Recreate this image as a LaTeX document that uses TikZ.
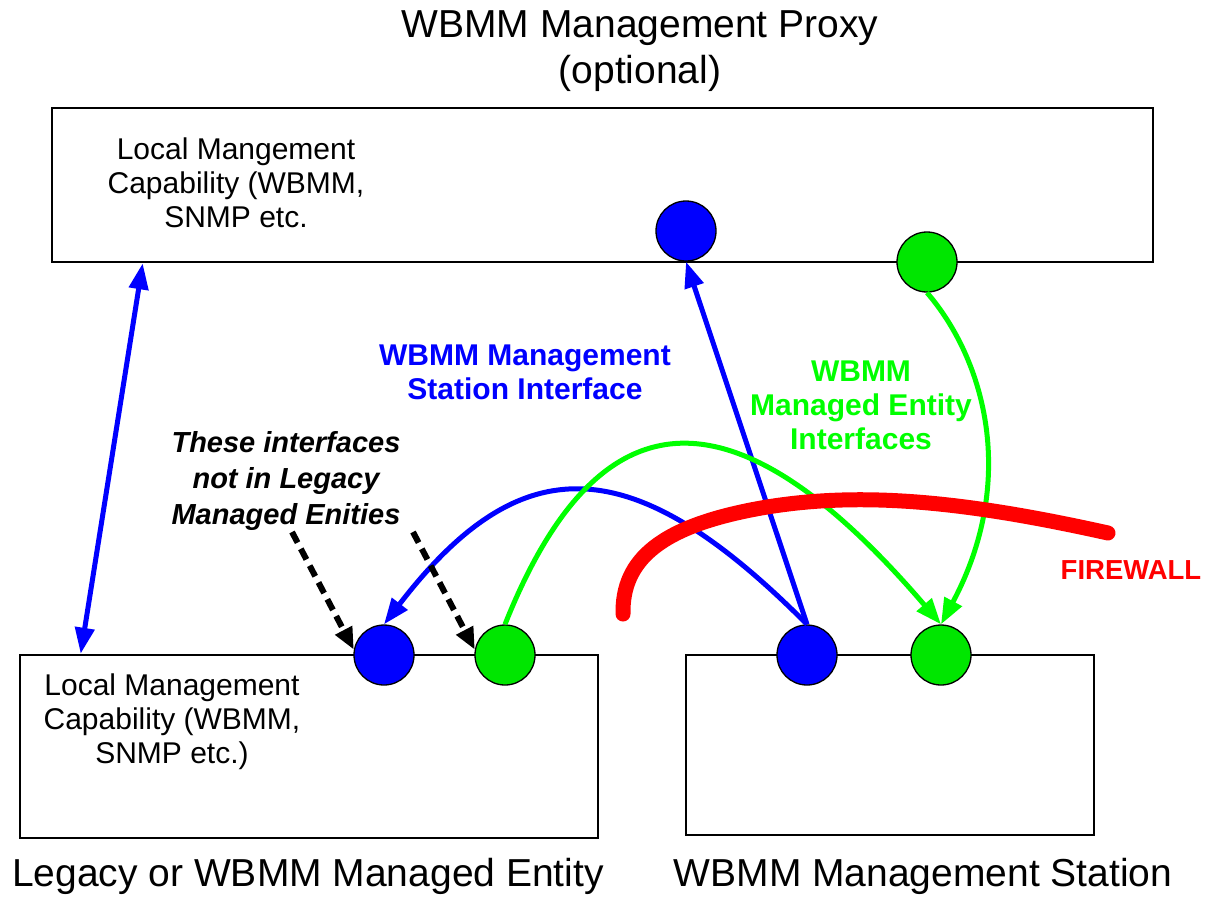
\documentclass[tikz,border=0pt]{standalone}
\usepackage{fontspec}
\setmainfont{Liberation Sans}
\usetikzlibrary{arrows.meta,calc}
\definecolor{bl}{RGB}{0,0,255}
\definecolor{gr}{RGB}{0,255,0}
\definecolor{grfill}{RGB}{0,230,0}
\definecolor{rd}{RGB}{255,0,0}
\begin{document}
\begin{tikzpicture}[x=1pt,y=-1pt,
  box/.style={draw=black,line width=2.6pt,rectangle,inner sep=0pt},
  bigtxt/.style={align=center,inner sep=0pt,font=\fontsize{39}{46}\selectfont},
  boxtxt/.style={align=center,inner sep=0pt,font=\fontsize{30}{34}\selectfont},
  lbl/.style={align=center,inner sep=0pt,font=\fontsize{30}{34}\selectfont\bfseries},
  port/.style={circle,draw=black,line width=1.3pt,minimum size=60pt,inner sep=0pt},
  bport/.style={port,fill=bl},
  gport/.style={port,fill=grfill},
  bline/.style={draw=bl,line width=5pt},
  gline/.style={draw=gr,line width=5pt},
  btip/.style={-{Triangle[length=26pt,width=19pt]}},
  dashline/.style={draw=black,line width=6pt,dash pattern=on 12pt off 7pt,-{Triangle[length=22pt,width=18pt]}},
  fw/.style={draw=rd,line width=15pt,line cap=round}
]
\useasboundingbox (0,0) rectangle (1215,898);

% boxes
\node[box,minimum width=1101pt,minimum height=154pt] (proxy) at (602.5,185) {};
\node[box,minimum width=578pt,minimum height=183pt] (entity) at (309,746.5) {};
\node[box,minimum width=408pt,minimum height=180pt] (station) at (890,745) {};

% texts
\node[bigtxt] (title) at (640,51) {WBMM Management Proxy\\(optional)};
\node[boxtxt] (ptxt) at (236,183) {Local Mangement\\Capability (WBMM,\\SNMP etc.};
\node[boxtxt] (etxt) at (172,722) {Local Management\\Capability (WBMM,\\SNMP etc.)};
\node[bigtxt] (elbl) at (308,876) {Legacy or WBMM Managed Entity};
\node[bigtxt] (slbl) at (923,876) {WBMM Management Station};
\node[lbl,text=bl] (bl1) at (525,372) {WBMM Management\\Station Interface};
\node[lbl,text=gr] (gl1) at (861,405) {WBMM\\Managed Entity\\Interfaces};
\node[lbl,font=\fontsize{29}{36}\selectfont\bfseries\itshape] (note) at (286,481) {These interfaces\\not in Legacy\\Managed Enities};
\node[inner sep=0pt,text=rd,font=\fontsize{27.5}{30}\selectfont\bfseries] (fwt) at (1131,570) {FIREWALL};

% ports
\node[bport] (bP) at (686,231) {};
\node[gport] (gP) at (927,262) {};
\node[bport] (bE) at (384,655) {};
\node[gport] (gE) at (505,655) {};
\node[bport] (bS) at (807,655) {};
\node[gport] (gS) at (941,655) {};

% connectors
\draw[bline,{Triangle[length=26pt,width=19pt]}-{Triangle[length=26pt,width=19pt]}]
  ($(proxy.south west)+(92,0)$) -- ($(entity.north west)+(62,0)$);
\draw[bline,btip] (bS.north) -- (bP.south);
\draw[bline,btip] (bS.north) .. controls (632,448) and (521,446) .. (bE.north);
\draw[gline,btip] (gE.north) .. controls (600,386) and (737,386) .. (gS.north);
\draw[gline,btip] (gP.south) .. controls (985,360) and (1018,480) .. (gS.north);
\draw[dashline] (292,532) -- (bE.170);
\draw[dashline] (413,532) -- (gE.170);

% firewall
\draw[fw] (623,614) .. controls (622,560) and (660,525) .. (767,507)
  .. controls (860,492) and (960,500) .. (1108,533);
\end{tikzpicture}
\end{document}
